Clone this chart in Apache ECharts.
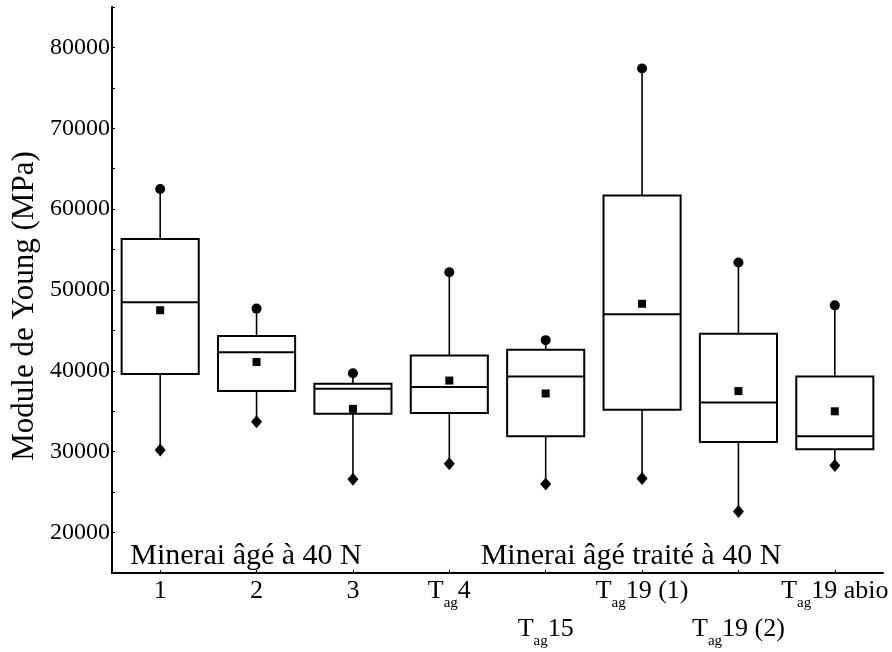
<!DOCTYPE html>
<html><head><meta charset="utf-8">
<script src="https://cdn.jsdelivr.net/npm/echarts@6/dist/echarts.min.js"></script>
<style>html,body{margin:0;padding:0;background:#fff}#c{width:892px;height:652px}</style>
</head><body><div id="c"></div>
<script>
// ---- data ----
const categories = ['1', '2', '3', 'T_ag4', 'T_ag15', 'T_ag19 (1)', 'T_ag19 (2)', 'T_ag19 abio'];
const labelRows  = [0, 0, 0, 0, 1, 0, 1, 0];
const mins    = [30200, 33700, 26600, 28500, 26000, 26700, 22600, 28300];
const q1s     = [39600, 37500, 34700, 34800, 31900, 35200, 31200, 30300];
const medians = [48500, 42300, 37800, 38000, 39300, 47000, 36100, 31900];
const q3s     = [56300, 44300, 38400, 41900, 42600, 61700, 44600, 39300];
const maxs    = [62500, 47700, 39700, 52200, 43800, 77400, 53400, 48100];
const means   = [47500, 41100, 35300, 38800, 37200, 48300, 37500, 35000];
const yTickLabels = [20000, 30000, 40000, 50000, 60000, 70000, 80000];
const yTitle = 'Module de Young (MPa)';
const groupLabels = ['Minerai âgé à 40 N', 'Minerai âgé traité à 40 N'];

const FONT = '"Liberation Serif", "DejaVu Serif", serif';
const chart = echarts.init(document.getElementById('c'), null, {renderer: 'canvas'});

const boxData = categories.map((c, i) => [i, mins[i], q1s[i], medians[i], q3s[i], maxs[i]]);

function fmtLabel(v, idx) {
  let s;
  if (v.indexOf('T_ag') === 0) s = '{t|T}{s|ag}{t|' + v.slice(4) + '}';
  else s = '{t|' + v + '}';
  if (labelRows[idx] === 1) s = '{e| }\n' + s;
  return s;
}

const option = {
  animation: false,
  backgroundColor: '#fff',
  grid: {left: 112, top: 7, width: 771, height: 566, containLabel: false},
  xAxis: {
    type: 'category',
    data: categories,
    boundaryGap: true,
    axisLine: {lineStyle: {color: '#000', width: 2}},
    axisTick: {show: true, alignWithLabel: true, inside: true, length: 3, lineStyle: {color: '#000'}},
    axisLabel: {
      interval: 0, margin: -2, color: '#000',
      formatter: fmtLabel,
      rich: {
        t: {fontFamily: FONT, fontSize: 26, color: '#000', lineHeight: 40},
        s: {fontFamily: FONT, fontSize: 15, color: '#000', lineHeight: 16, padding: [24, 0, 0, 0]},
        e: {fontFamily: FONT, fontSize: 10, lineHeight: 38}
      }
    },
    splitLine: {show: false}
  },
  yAxis: {
    type: 'value', min: 15000, max: 85000, interval: 5000,
    axisLine: {show: true, lineStyle: {color: '#000', width: 2}},
    axisTick: {show: true, inside: true, length: 3, lineStyle: {color: '#000'}},
    splitLine: {show: false},
    axisLabel: {
      margin: 2, color: '#000', fontFamily: FONT, fontSize: 24,
      formatter: v => yTickLabels.indexOf(v) >= 0 ? String(v) : ''
    }
  },
  graphic: [
    {type: 'text', x: 25, y: 306, rotation: Math.PI / 2,
     style: {text: yTitle, font: '31px ' + FONT, fill: '#000', align: 'center', verticalAlign: 'middle'}},
    {type: 'text', x: 246, y: 556,
     style: {text: groupLabels[0], font: '30px ' + FONT, fill: '#000', align: 'center', verticalAlign: 'middle'}},
    {type: 'text', x: 631, y: 556,
     style: {text: groupLabels[1], font: '30px ' + FONT, fill: '#000', align: 'center', verticalAlign: 'middle'}}
  ],
  series: [
    {
      type: 'custom',
      data: boxData,
      encode: {x: 0, y: [1, 2, 3, 4, 5]},
      renderItem: function (params, api) {
        const x = api.value(0);
        const pMin = api.coord([x, api.value(1)]);
        const pQ1 = api.coord([x, api.value(2)]);
        const pMed = api.coord([x, api.value(3)]);
        const pQ3 = api.coord([x, api.value(4)]);
        const pMax = api.coord([x, api.value(5)]);
        const w = api.size([1, 0])[0] * 0.8;
        const cx = pMed[0];
        const ls = {stroke: '#000', lineWidth: 1.6, fill: null};
        return {
          type: 'group',
          children: [
            {type: 'line', shape: {x1: cx, y1: pQ3[1], x2: cx, y2: pMax[1]}, style: ls},
            {type: 'line', shape: {x1: cx, y1: pQ1[1], x2: cx, y2: pMin[1]}, style: ls},
            {type: 'rect', shape: {x: cx - w / 2, y: pQ3[1], width: w, height: pQ1[1] - pQ3[1]},
             style: {stroke: '#000', lineWidth: 2, fill: '#fff'}},
            {type: 'line', shape: {x1: cx - w / 2, y1: pMed[1], x2: cx + w / 2, y2: pMed[1]},
             style: {stroke: '#000', lineWidth: 2}}
          ]
        };
      },
      z: 2
    },
    {type: 'scatter', data: maxs.map((v, i) => [i, v]), symbol: 'circle', symbolSize: 10,
     itemStyle: {color: '#000', opacity: 1}, z: 3},
    {type: 'scatter', data: mins.map((v, i) => [i, v]), symbol: 'diamond', symbolSize: [11, 13],
     itemStyle: {color: '#000', opacity: 1}, z: 3},
    {type: 'scatter', data: means.map((v, i) => [i, v]), symbol: 'rect', symbolSize: 8,
     itemStyle: {color: '#000', opacity: 1}, z: 3}
  ]
};
chart.setOption(option);
</script>
</body></html>
